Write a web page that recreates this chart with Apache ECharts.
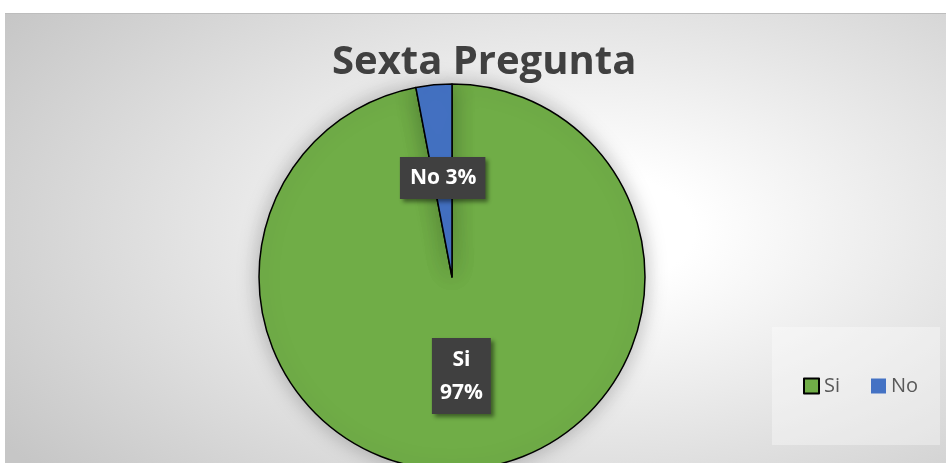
<!DOCTYPE html>
<html>
<head>
<meta charset="utf-8">
<script src="https://cdn.jsdelivr.net/npm/echarts@6/dist/echarts.min.js"></script>
<style>
  html, body { margin: 0; padding: 0; background: #fff; }
  #bg {
    position: absolute; left: 5px; top: 13px; width: 941px; height: 450px;
    border-top: 1.5px solid #bdbdbd;
    background: radial-gradient(ellipse 75% 85% at 62% 48%, #ffffff 15%, #c6c6c6 100%);
  }
  #main { position: absolute; left: 0; top: 0; width: 946px; height: 463px; }
</style>
</head>
<body>
<div id="bg"></div>
<div id="main"></div>
<script>
  // datos de la sexta pregunta
  var categories = ["Si", "No"];
  var values = [97, 3];
  var colors = ["#70AD47", "#4472C4"];

  var myChart = echarts.init(document.getElementById("main"));

  var labelBox = {
    show: true,
    position: "inside",
    color: "#fff",
    fontFamily: "Open Sans",
    fontWeight: "bold",
    fontSize: 21,
    backgroundColor: "#404040",
    shadowColor: "rgba(0,0,0,0.45)",
    shadowBlur: 4,
    shadowOffsetX: 3,
    shadowOffsetY: 3
  };

  var pieData = categories.map(function (name, i) {
    var lbl = Object.assign({}, labelBox);
    if (i === 0) {
      lbl.lineHeight = 33;
      lbl.padding = [5, 8, 5, 8];
      lbl.formatter = function (p) { return p.name + "\n" + Math.round(p.percent) + "%"; };
    } else {
      lbl.lineHeight = 27;
      lbl.padding = [8, 9, 7, 10];
      lbl.formatter = function (p) { return p.name + " " + Math.round(p.percent) + "%"; };
    }
    return {
      name: name,
      value: values[i],
      itemStyle: { color: colors[i] },
      label: lbl
    };
  });

  var option = {
    animation: false,
    title: {
      text: "Sexta Pregunta",
      left: 332,
      top: 43,
      padding: 0,
      textStyle: {
        fontFamily: "Open Sans",
        fontWeight: "bold",
        fontSize: 40,
        color: "#404040"
      }
    },
    graphic: [
      {
        type: "rect",
        shape: { x: 772, y: 327, width: 168, height: 118 },
        style: { fill: "rgba(255,255,255,0.35)" },
        z: -1
      }
    ],
    legend: {
      left: 803,
      top: 376,
      padding: 0,
      icon: "rect",
      itemWidth: 15,
      itemHeight: 15,
      itemGap: 31,
      textStyle: {
        fontFamily: "Open Sans",
        fontSize: 20,
        color: "#595959"
      },
      data: [
        { name: "Si" },
        { name: "No", itemStyle: { borderWidth: 0 } }
      ]
    },
    series: [
      {
        type: "pie",
        center: [452, 277],
        radius: 193,
        startAngle: 90,
        clockwise: true,
        silent: true,
        labelLine: { show: false },
        itemStyle: {
          borderColor: "#000",
          borderWidth: 1.5,
          shadowBlur: 22,
          shadowColor: "rgba(0,0,0,0.28)"
        },
        data: pieData
      }
    ]
  };
  myChart.setOption(option);
</script>
</body>
</html>
